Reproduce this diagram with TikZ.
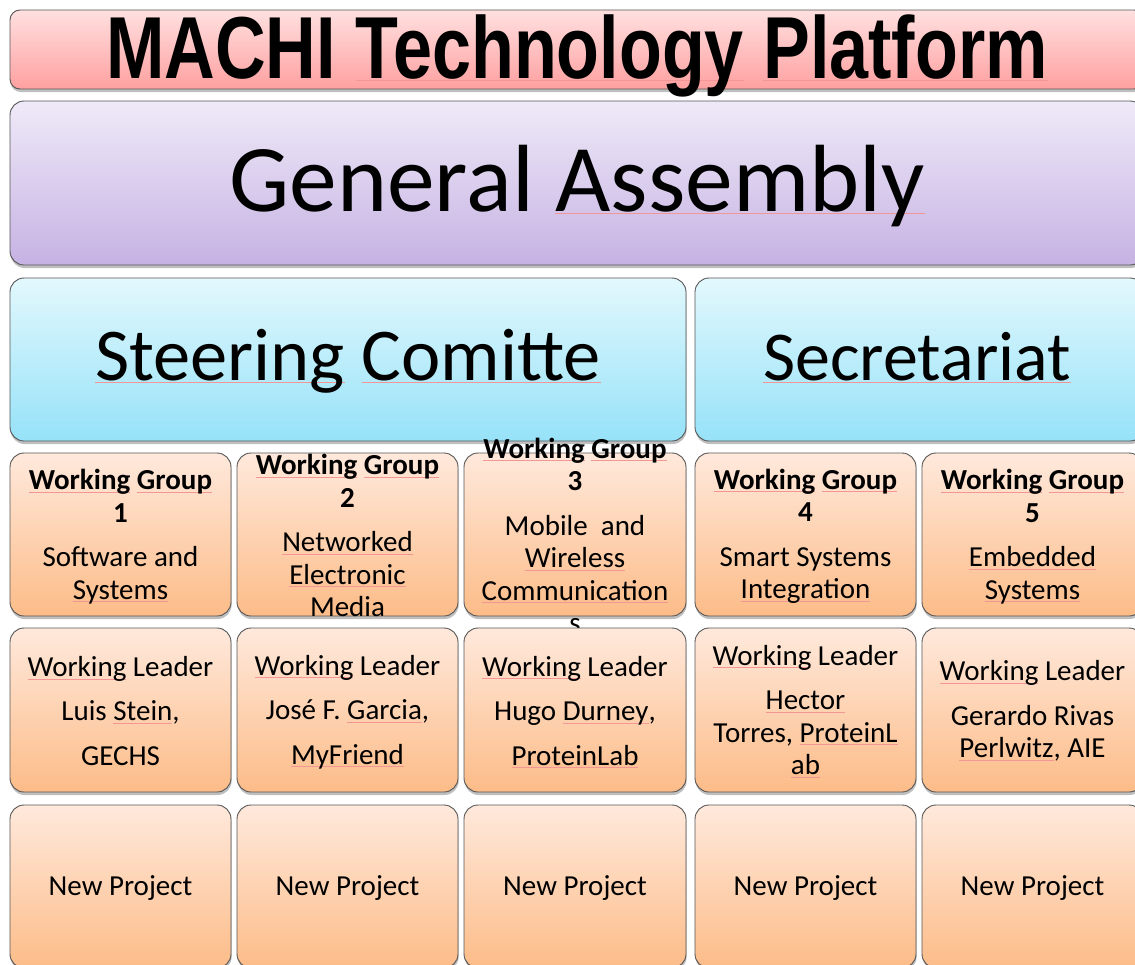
\documentclass[tikz,border=0pt]{standalone}
\usepackage{fontspec}
\usepackage{graphicx}
\setmainfont{Carlito}
\newfontfamily\arialf{Liberation Sans}
\usetikzlibrary{shadows}
\definecolor{pinkT}{RGB}{255,224,224}
\definecolor{pinkB}{RGB}{255,160,160}
\definecolor{lavT}{RGB}{239,234,248}
\definecolor{lavB}{RGB}{198,178,227}
\definecolor{bluT}{RGB}{226,248,253}
\definecolor{bluB}{RGB}{150,226,248}
\definecolor{orT}{RGB}{255,233,220}
\definecolor{orB}{RGB}{252,188,136}
\definecolor{edgec}{RGB}{85,85,85}
\definecolor{sqred}{RGB}{245,150,150}
\newsavebox\sqbox
\newcommand\sqg[1]{\sbox\sqbox{#1}\rlap{\textcolor{sqred}{\rule[-2.6pt]{\wd\sqbox}{0.55pt}}}\usebox\sqbox}
\tikzset{
  panel/.style={draw=edgec, line width=0.9pt, rounded corners=14pt, inner sep=0pt,
    drop shadow={shadow xshift=0.6pt, shadow yshift=-3pt, opacity=0.25, fill=black}},
  pinkbox/.style={panel, rounded corners=10pt, top color=pinkT, bottom color=pinkB},
  lavbox/.style={panel, top color=lavT, bottom color=lavB},
  blubox/.style={panel, top color=bluT, bottom color=bluB},
  orbox/.style={panel, top color=orT, bottom color=orB, minimum width=221pt},
  wgrow/.style={orbox, minimum height=163pt},
  ldrow/.style={orbox, minimum height=164pt},
  txt/.style={align=center, inner sep=0pt, font=\fontsize{29}{32.5}\selectfont},
}
\begin{document}
\begin{tikzpicture}[x=1pt,y=-1pt]
\useasboundingbox (0,0) rectangle (1135,964);
\clip (0,0) rectangle (1135,964);
% title
\node[pinkbox, minimum width=1134pt, minimum height=79pt] (titlebox) at (577,49.5) {};
\node[anchor=base, inner sep=0pt] (title) at (577,78)
  {\scalebox{0.797}[1]{\arialf\bfseries\fontsize{88}{88}\selectfont MACHI \sqg{Technology} \sqg{Platform}}};
% general assembly
\node[lavbox, minimum width=1134pt, minimum height=164pt] (gabox) at (577,183) {};
\node[anchor=base, inner sep=0pt, font=\fontsize{95.5}{95.5}\selectfont] (ga) at (577,211) {General \sqg{Assembly}};
% steering / secretariat
\node[blubox, minimum width=676pt, minimum height=163pt] (scbox) at (348,359.5) {};
\node[anchor=base, inner sep=0pt, font=\fontsize{74.5}{74.5}\selectfont] (sc) at (348,380) {\sqg{Steering} \sqg{Comitte}};
\node[blubox, minimum width=449pt, minimum height=163pt] (secbox) at (919.5,359.5) {};
\node[anchor=base, inner sep=0pt, font=\fontsize{70}{70}\selectfont] (sec) at (917,380) {\sqg{Secretariat}};
% working groups
\node[wgrow] (wg1) at (120.5,534.5) {};
\node[wgrow] (wg2) at (347.5,534.5) {};
\node[wgrow, minimum width=222pt] (wg3) at (575,534.5) {};
\node[wgrow] (wg4) at (805.5,534.5) {};
\node[wgrow] (wg5) at (1032.5,534.5) {};
\node[txt] (wg1t) at ([yshift=-2pt]wg1.center) {\textbf{\sqg{Working} \sqg{Group}}\\ \textbf{1}\\[12pt] Software and\\ \sqg{Systems}};
\node[txt] (wg2t) at ([yshift=-1pt]wg2.center) {\textbf{\sqg{Working} \sqg{Group}}\\ \textbf{2}\\[12pt] \sqg{Networked}\\ \sqg{Electronic}\\ Media};
\node[txt] (wg3t) at ([yshift=-1pt]wg3.center) {\textbf{\sqg{Working} \sqg{Group}}\\ \textbf{3}\\[12pt] Mobile\ \ and\\ \sqg{Wireless}\\ \sqg{Communication}\\ s};
\node[txt] (wg4t) at ([yshift=-2pt]wg4.center) {\textbf{\sqg{Working} \sqg{Group}}\\ \textbf{4}\\[12pt] Smart Systems\\ \sqg{Integration}};
\node[txt] (wg5t) at ([yshift=-2pt]wg5.center) {\textbf{\sqg{Working} \sqg{Group}}\\ \textbf{5}\\[12pt] \sqg{Embedded}\\ \sqg{Systems}};
% leaders
\node[ldrow] (ld1) at (120.5,710) {};
\node[ldrow] (ld2) at (347.5,710) {};
\node[ldrow, minimum width=222pt] (ld3) at (575,710) {};
\node[ldrow] (ld4) at (805.5,710) {};
\node[ldrow] (ld5) at (1032.5,710) {};
\node[txt] (ld1t) at ([yshift=-1pt]ld1.center) {\sqg{Working} Leader\\[12pt] Luis \sqg{Stein},\\[12pt] GECHS};
\node[txt] (ld2t) at ([yshift=-2pt]ld2.center) {\sqg{Working} Leader\\[12pt] José F. \sqg{Garcia},\\[12pt] \sqg{MyFriend}};
\node[txt] (ld3t) at ([yshift=-2pt]ld3.center) {\sqg{Working} Leader\\[12pt] Hugo \sqg{Durney},\\[12pt] \sqg{ProteinLab}};
\node[txt] (ld4t) at ([yshift=-1pt]ld4.center) {\sqg{Working} Leader\\[12pt] \sqg{Hector}\\ Torres, \sqg{ProteinL}\\ \sqg{ab}};
\node[txt] (ld5t) at ([yshift=-1pt]ld5.center) {\sqg{Working} Leader\\[12pt] Gerardo Rivas\\ \sqg{Perlwitz}, AIE};
% new projects
\node[wgrow] (np1) at (120.5,886.5) {};
\node[wgrow] (np2) at (347.5,886.5) {};
\node[wgrow, minimum width=222pt] (np3) at (575,886.5) {};
\node[wgrow] (np4) at (805.5,886.5) {};
\node[wgrow] (np5) at (1032.5,886.5) {};
\node[txt] (np1t) at ([yshift=-1pt]np1.center) {New Project};
\node[txt] (np2t) at ([yshift=-1pt]np2.center) {New Project};
\node[txt] (np3t) at ([yshift=-1pt]np3.center) {New Project};
\node[txt] (np4t) at ([yshift=-1pt]np4.center) {New Project};
\node[txt] (np5t) at ([yshift=-1pt]np5.center) {New Project};
\end{tikzpicture}
\end{document}
